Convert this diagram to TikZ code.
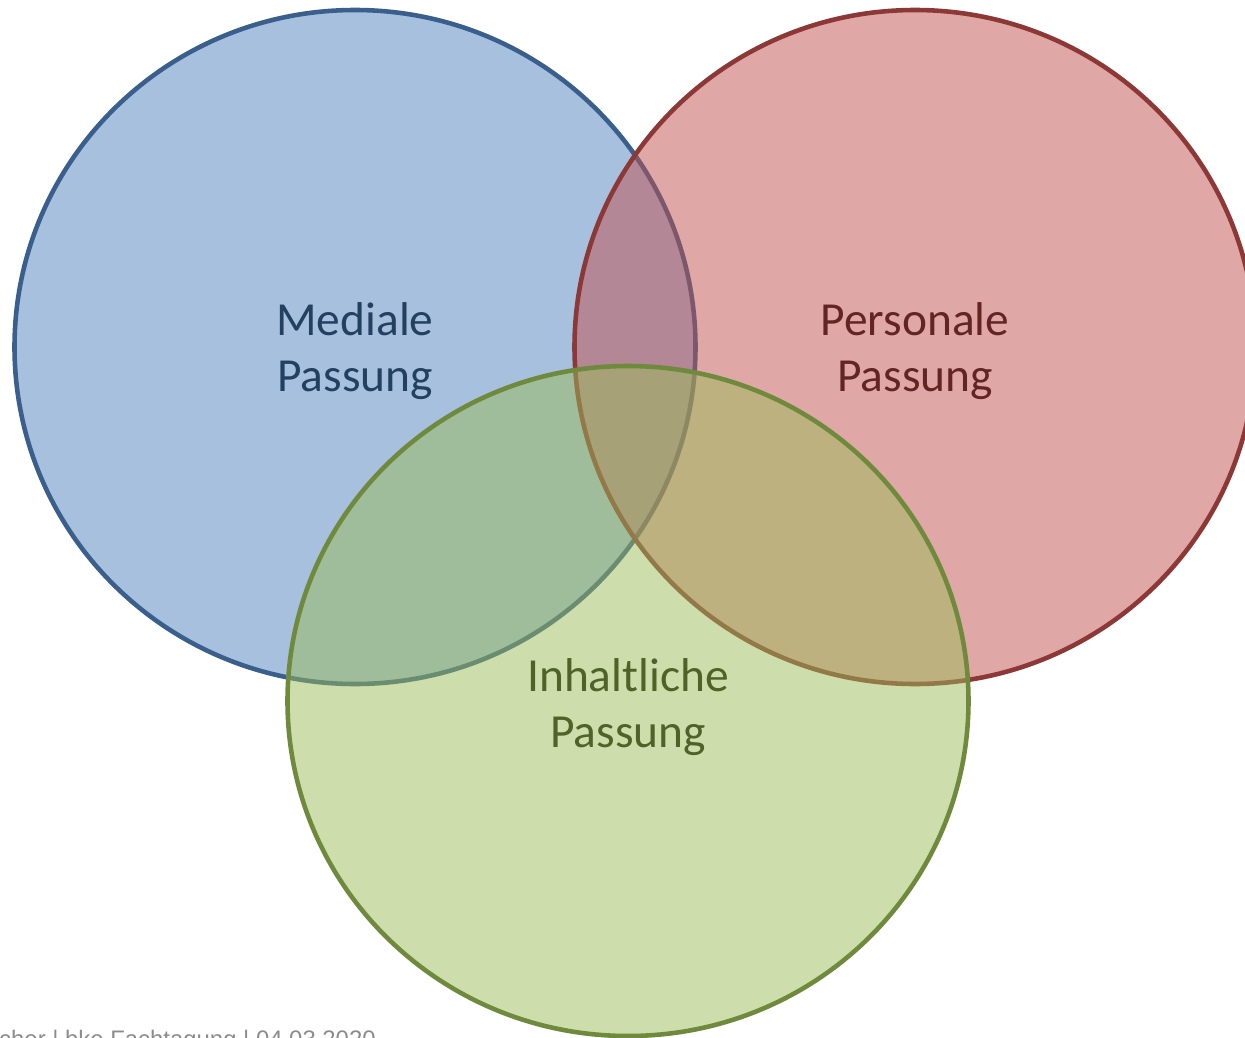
\documentclass[tikz,border=0pt]{standalone}
\usepackage{fontspec}
\setmainfont{Carlito}
\newfontfamily\footfont{Liberation Sans}
\definecolor{bluefill}{HTML}{4F81BD}
\definecolor{blueline}{HTML}{3A5F8D}
\definecolor{bluetext}{HTML}{244061}
\definecolor{redfill}{HTML}{C0504D}
\definecolor{redline}{HTML}{8C3836}
\definecolor{redtext}{HTML}{632523}
\definecolor{greenfill}{HTML}{9BBB59}
\definecolor{greenline}{HTML}{6F8A3C}
\definecolor{greentext}{HTML}{4F6228}
\definecolor{foottext}{HTML}{8C8C8C}
\begin{document}
\begin{tikzpicture}[x=0.02cm,y=-0.02cm,
  set/.style={line width=2.6pt, fill opacity=0.5, draw opacity=1},
  lbl/.style={align=center, font=\fontsize{27}{32}\selectfont, inner sep=0pt}]
\useasboundingbox (0,0) rectangle (1245,1038);
\clip (0,0) rectangle (1245,1038);
\draw[set, draw=blueline, fill=bluefill] (355,347) ellipse [x radius=340.5, y radius=337];
\draw[set, draw=redline, fill=redfill] (915,347) ellipse [x radius=340.5, y radius=337];
\draw[set, draw=greenline, fill=greenfill] (628,701) ellipse [x radius=340.5, y radius=335];
\node[lbl, text=bluetext] (medial) at (355,351) {Mediale\\Passung};
\node[lbl, text=redtext] (personal) at (915,351) {Personale\\Passung};
\node[lbl, text=greentext] (inhalt) at (628,707) {Inhaltliche\\Passung};
\node[anchor=base east, inner sep=0pt, text=foottext, font=\footfont\fontsize{13.6}{16}\selectfont] (foot) at (376,1047) {cher | bke Fachtagung | 04.03.2020};
\end{tikzpicture}
\end{document}
